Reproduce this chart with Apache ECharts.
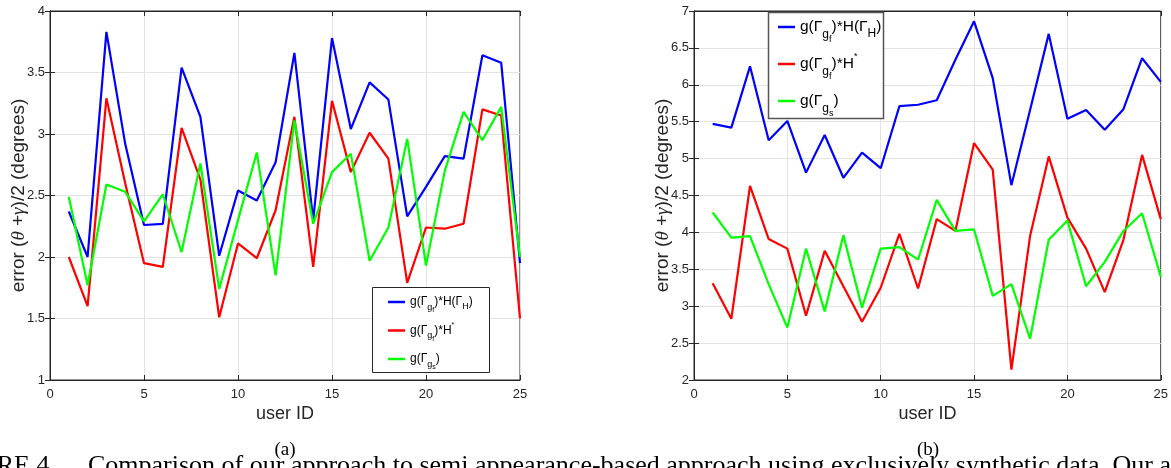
<!DOCTYPE html>
<html><head><meta charset="utf-8">
<script src="https://cdn.jsdelivr.net/npm/echarts@6/dist/echarts.min.js"></script>
<style>html,body{margin:0;padding:0;background:#fff}#c{width:1171px;height:468px}</style>
</head><body><div id="c"></div>
<script>
// ---- data ----
const userIds = [1,2,3,4,5,6,7,8,9,10,11,12,13,14,15,16,17,18,19,20,21,22,23,24,25];
const seriesNames = ['g(Γgf)*H(ΓH)', 'g(Γgf)*H*', 'g(Γgs)'];
// (a)
const aBlue  = [2.37,2.00,3.83,2.92,2.26,2.27,3.54,3.14,2.01,2.54,2.46,2.77,3.66,2.30,3.78,3.04,3.42,3.28,2.33,2.57,2.82,2.80,3.64,3.58,1.95];
const aRed   = [2.00,1.60,3.29,2.60,1.95,1.92,3.05,2.63,1.51,2.11,1.99,2.38,3.14,1.92,3.27,2.69,3.01,2.80,1.79,2.24,2.23,2.27,3.20,3.15,1.50];
const aGreen = [2.49,1.77,2.59,2.53,2.29,2.51,2.04,2.76,1.74,2.30,2.85,1.85,3.11,2.27,2.69,2.84,1.97,2.24,2.96,1.93,2.70,3.18,2.95,3.22,2.00];
// (b)
const bBlue  = [5.47,5.42,6.25,5.25,5.51,4.81,5.32,4.74,5.08,4.87,5.71,5.73,5.79,6.34,6.86,6.09,4.64,5.66,6.69,5.54,5.66,5.39,5.67,6.36,6.04];
const bRed   = [3.31,2.83,4.63,3.91,3.78,2.87,3.75,3.27,2.79,3.25,3.98,3.24,4.18,4.02,5.21,4.85,2.14,3.95,5.03,4.20,3.78,3.19,3.90,5.05,4.18];
const bGreen = [4.27,3.93,3.95,3.30,2.71,3.78,2.93,3.96,2.98,3.78,3.80,3.63,4.44,4.02,4.04,3.14,3.30,2.56,3.90,4.16,3.27,3.60,4.02,4.26,3.40];
// axes
const xRange = [0, 25, 5];
const aYRange = [1, 4, 0.5];
const bYRange = [2, 7, 0.5];
const yTitle = '{a|error (}{i|θ}{a| +}{i|γ}{a|)/2 (degrees)}';
const xTitle = 'user ID';
const captionA = '(a)', captionB = '(b)';
const figPrefix = 'FIGURE 4.';
const figText = 'Comparison of our approach to semi appearance-based approach using exclusively synthetic data. Our approach';

// ---- chart ----
const SANS = '"Liberation Sans", Arial, Helvetica, sans-serif';
const SERIF = '"Liberation Serif", "Times New Roman", serif';
const AX = '#262626';
const colors = ['#0000ff', '#ff0000', '#00ff00'];
const chart = echarts.init(document.getElementById('c'));
const pairs = v => userIds.map((u, i) => [u, v[i]]);

const grids = [
  {left: 50, top: 11, width: 470, height: 369, show: true, borderColor: AX, borderWidth: 1},
  {left: 694, top: 11, width: 469, height: 369, show: true, borderColor: AX, borderWidth: 1}
];

function xAxes(gi) {
  return [{
    type: 'value', gridIndex: gi, position: 'bottom', min: xRange[0], max: xRange[1], interval: xRange[2],
    axisLine: {show: true, lineStyle: {color: AX, width: 1}},
    axisTick: {show: true, inside: true, length: 5, lineStyle: {color: AX}},
    axisLabel: {color: AX, fontFamily: SANS, fontSize: 13, margin: 8},
    splitLine: {show: true, lineStyle: {color: '#e3e3e3', width: 1}},
    name: xTitle, nameLocation: 'middle', nameGap: 25, nameMoveOverlap: false,
    nameTextStyle: {color: AX, fontFamily: SANS, fontSize: 18}
  }, {
    type: 'value', gridIndex: gi, position: 'top', min: xRange[0], max: xRange[1], interval: xRange[2],
    axisLine: {show: true, lineStyle: {color: AX, width: 1}},
    axisTick: {show: true, inside: true, length: 5, lineStyle: {color: AX}},
    axisLabel: {show: false}, splitLine: {show: false}
  }];
}
function yAxes(gi, r, gap) {
  return [{
    type: 'value', gridIndex: gi, position: 'left', min: r[0], max: r[1], interval: r[2],
    axisLine: {show: true, lineStyle: {color: AX, width: 1}},
    axisTick: {show: true, inside: true, length: 5, lineStyle: {color: AX}},
    axisLabel: {color: AX, fontFamily: SANS, fontSize: 13, margin: 5},
    splitLine: {show: true, lineStyle: {color: '#e3e3e3', width: 1}},
    name: yTitle, nameLocation: 'middle', nameGap: gap, nameRotate: 90, nameMoveOverlap: false,
    nameTextStyle: {rich: {
      a: {color: AX, fontFamily: SANS, fontSize: 19},
      i: {color: AX, fontFamily: SERIF, fontSize: 19, fontStyle: 'italic'}
    }}
  }, {
    type: 'value', gridIndex: gi, position: 'right', min: r[0], max: r[1], interval: r[2],
    axisLine: {show: true, lineStyle: {color: AX, width: 1}},
    axisTick: {show: true, inside: true, length: 5, lineStyle: {color: AX}},
    axisLabel: {show: false}, splitLine: {show: false}
  }];
}

function mkSeries(name, vals, ci, xi, yi) {
  return {
    name, type: 'line', xAxisIndex: xi, yAxisIndex: yi, data: pairs(vals),
    symbol: 'none', showSymbol: false, animation: false, z: 2,
    lineStyle: {color: colors[ci], width: 2.2}, itemStyle: {color: colors[ci]}
  };
}

function legendRich(fs, k) {
  return {
    t: {fontFamily: SANS, fontSize: fs, color: '#000', lineHeight: Math.round(16 * k)},
    s: {fontFamily: SANS, fontSize: Math.round(fs * 0.75), color: '#000', padding: [Math.round(11 * k), 0, 0, 0], lineHeight: Math.round(16 * k)},
    ss: {fontFamily: SANS, fontSize: Math.round(fs * 0.55), color: '#000', padding: [Math.round(17 * k), 0, 0, 0], lineHeight: Math.round(16 * k)},
    h: {fontFamily: SANS, fontSize: Math.round(fs * 0.75), color: '#000', padding: [Math.round(9 * k), 0, 0, 0], lineHeight: Math.round(16 * k)},
    p: {fontFamily: SANS, fontSize: Math.round(fs * 0.6), color: '#000', padding: [0, 0, Math.round(10 * k), 0], lineHeight: Math.round(16 * k)}
  };
}
const legendFmt = {
  [seriesNames[0]]: '{t|g(Γ}{s|g}{ss|f}{t|)*H(Γ}{h|H}{t|)}',
  [seriesNames[1]]: '{t|g(Γ}{s|g}{ss|f}{t|)*H}{p|*}',
  [seriesNames[2]]: '{t|g(Γ}{s|g}{ss|s}{t|)}'
};
function mkLegend(left, top, fs, k, gap, iw) {
  return {
    orient: 'vertical', left, top, padding: 0, itemGap: gap, itemWidth: iw, itemHeight: 2.5,
    icon: 'rect', data: seriesNames, selectedMode: false, z: 6,
    formatter: n => legendFmt[n],
    textStyle: {rich: legendRich(fs, k)}
  };
}

const option = {
  animation: false,
  backgroundColor: '#fff',
  grid: grids,
  xAxis: [...xAxes(0), ...xAxes(1)],
  yAxis: [...yAxes(0, aYRange, 22), ...yAxes(1, bYRange, 22)],
  legend: [mkLegend(388, 290, 12, 1, 4.5, 17), mkLegend(778, 10, 15.5, 16 / 11, 3, 17)],
  series: [
    mkSeries(seriesNames[0], aBlue, 0, 0, 0),
    mkSeries(seriesNames[1], aRed, 1, 0, 0),
    mkSeries(seriesNames[2], aGreen, 2, 0, 0),
    mkSeries(seriesNames[0], bBlue, 0, 2, 2),
    mkSeries(seriesNames[1], bRed, 1, 2, 2),
    mkSeries(seriesNames[2], bGreen, 2, 2, 2)
  ],
  graphic: [
    {type: 'rect', z: 5, shape: {x: 372.5, y: 287.5, width: 117, height: 85},
     style: {fill: '#fff', stroke: AX, lineWidth: 1}},
    {type: 'rect', z: 5, shape: {x: 768.5, y: 12.5, width: 115, height: 106},
     style: {fill: '#fff', stroke: '#555', lineWidth: 1.5}},
    {type: 'text', z: 5, x: 285, y: 441, style: {text: captionA, font: '19px ' + SERIF, fill: '#000', textAlign: 'center', textVerticalAlign: 'top'}},
    {type: 'text', z: 5, x: 928, y: 441, style: {text: captionB, font: '19px ' + SERIF, fill: '#000', textAlign: 'center', textVerticalAlign: 'top'}},
    {type: 'text', z: 4, x: -64, y: 453, style: {text: figPrefix, font: '26px ' + SERIF, fill: '#000', textAlign: 'left', textVerticalAlign: 'top'}},
    {type: 'text', z: 4, x: 88, y: 453, style: {text: figText, font: '26px ' + SERIF, fill: '#000', textAlign: 'left', textVerticalAlign: 'top'}}
  ]
};
chart.setOption(option);
</script></body></html>
